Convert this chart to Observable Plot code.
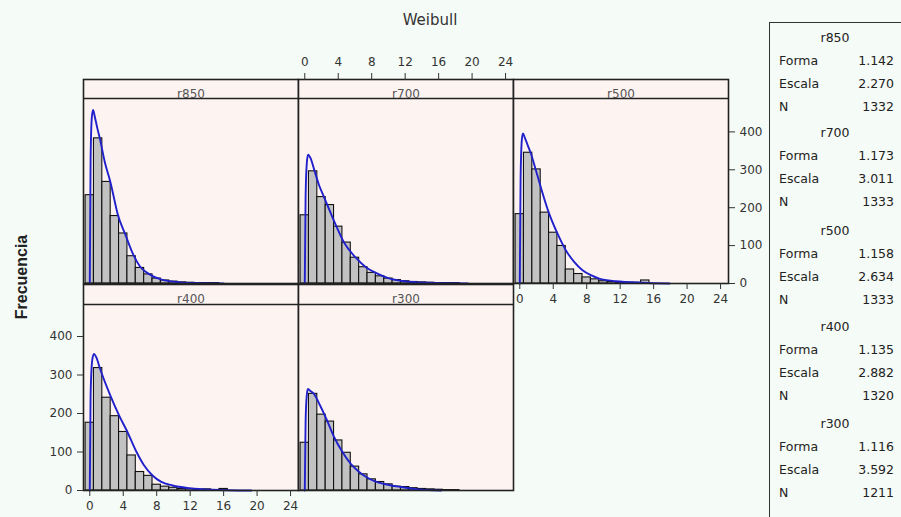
<!DOCTYPE html>
<html><head><meta charset="utf-8">
<script src="https://cdn.jsdelivr.net/npm/d3@7"></script>
<script src="https://cdn.jsdelivr.net/npm/@observablehq/plot@0.6"></script>
<style>
body{margin:0;background:#f5fbf6;}
#fig{position:relative;width:901px;height:517px;overflow:hidden;background:#f5fbf6;font-family:"DejaVu Sans",sans-serif;}
.abs{position:absolute;white-space:nowrap;}
.plotwrap{position:absolute;}
</style></head><body><div id="fig"></div>
<script>
// ---------- data ----------
const series = ["r850", "r700", "r500", "r400", "r300"];
const binMid = [0,1,2,3,4,5,6,7,8,9,10,11,12,13,14,15,16,17,18,19,20];
const count_r850 = [233,383,268,178,132,72,41,24,13,8,5,3,2,1,1,1,0,0,0,0,0];
const count_r700 = [180,296,228,207,150,108,68,43,28,19,13,9,6,4,3,2,1,1,1,0,0];
const count_r500 = [183,345,301,187,134,99,37,25,16,11,6,4,3,2,2,8,0,0,0,0,0];
const count_r400 = [176,318,241,193,152,91,48,38,15,10,7,4,4,2,3,1,4,0,0,0,0];
const count_r300 = [124,251,197,179,130,98,62,42,29,22,16,10,9,6,4,3,2,1,1,0,0];

// fitted Weibull curve
const fitX_r850 = [0,0.1,0.25,0.4,0.6,0.9,1.2,1.8,2.46,3.4,4.2,5.2,6.0,7.0,8.6,10.8,13,16];
const fitY_r850 = [0,330,440,458,440,410,383,320,268,178,132,76,45,26,10,3,1,0];
const fitX_r700 = [0,0.1,0.25,0.4,0.7,1.18,1.7,2.3,2.7,3.8,4.7,6.1,7.3,8.5,9.9,11.9,14.7,19.5];
const fitY_r700 = [0,230,320,340,330,296,260,228,207,150,108,68,43,28,15,6,2,0];
const fitX_r500 = [0,0.1,0.25,0.38,0.6,1.0,1.3,1.9,2.5,3.5,4.5,5.5,6.5,7.5,8.5,9.5,11.5,14.7,17.9];
const fitY_r500 = [0,280,380,396,385,362,345,301,255,185,132,88,57,35,22,13,6,2,0];
const fitX_r400 = [0,0.1,0.3,0.5,0.8,1.2,2.45,3.5,4.5,5.5,6.5,7.5,8.5,9.9,11.9,14.6,19.3];
const fitY_r400 = [0,250,340,355,345,318,247,195,152,104,65,39,23,13,6,2,0];
const fitX_r300 = [0,0.1,0.25,0.38,0.6,1.1,1.8,2.5,3.5,4.5,5.5,6.5,7.5,8.5,9.5,11.5,13.5,16.3];
const fitY_r300 = [0,180,250,264,260,251,222,190,139,100,69,48,33,23,17,9,3,0];

const forma  = ["1.142", "1.173", "1.158", "1.135", "1.116"];
const escala = ["2.270", "3.011", "2.634", "2.882", "3.592"];
const nObs   = ["1332", "1333", "1333", "1320", "1211"];
const statLabels = ["Forma", "Escala", "N"];

const xTicks = [0, 4, 8, 12, 16, 20, 24];
const yTicks = [0, 100, 200, 300, 400];
const title = "Weibull";
const yLabel = "Frecuencia";

const counts = {r850: count_r850, r700: count_r700, r500: count_r500, r400: count_r400, r300: count_r300};
const fitX = {r850: fitX_r850, r700: fitX_r700, r500: fitX_r500, r400: fitX_r400, r300: fitX_r300};
const fitY = {r850: fitY_r850, r700: fitY_r700, r500: fitY_r500, r400: fitY_r400, r300: fitY_r300};

// ---------- layout ----------
const fig = document.getElementById("fig");
const colLeft = [83, 298, 513];
const panelW = 215;
const rows = [
  {frameTop: 79, stripBottom: 98, frameBottom: 283, k: 0.379},
  {frameTop: 284, stripBottom: 304, frameBottom: 490, k: 0.385}
];
const place = {r850: [0,0], r700: [1,0], r500: [2,0], r400: [0,1], r300: [1,1]};
const axesFor = {
  r850: [],
  r700: ["xtop"],
  r500: ["xbottom", "yright"],
  r400: ["xbottom", "yleft"],
  r300: []
};
const M = 45;
const panelBg = "#fdf4f2";
const ink = "#222";
const axisFont = 12;

for (const s of series) {
  const [c, r] = place[s];
  const R = rows[r];
  const frameH = R.frameBottom - R.frameTop;
  const W = panelW + 2 * M, H = frameH + 2 * M;
  const y0 = H - M;                 // pixel of value 0
  const y400 = y0 - 400 * R.k;      // pixel of value 400
  const sepVal = (R.frameBottom - R.stripBottom) / R.k;
  const bars = binMid.map((m, i) => ({x1: m - 0.5, x2: m + 0.5, n: counts[s][i]})).filter(d => d.n > 0);
  const fit = fitX[s].map((x, i) => ({x, y: fitY[s][i]}));
  const marks = [
    Plot.frame({fill: panelBg}),
    Plot.rectY(bars, {x1: "x1", x2: "x2", y: "n", fill: "#c2c2c2", stroke: "#111", strokeWidth: 1.1}),
    Plot.line(fit, {x: "x", y: "y", stroke: "#2020cc", strokeWidth: 1.9, curve: "monotone-x"}),
    Plot.ruleY([sepVal], {stroke: ink, strokeWidth: 1.5}),
    Plot.frame({stroke: ink, strokeWidth: 1.6}),
    Plot.text([s], {frameAnchor: "top", dy: 10, fontSize: 12, fill: "#555"})
  ];
  const ax = axesFor[s];
  if (ax.includes("xtop")) marks.push(Plot.axisX(xTicks, {anchor: "top", tickSize: 7, tickPadding: 7, color: "#333", fontSize: axisFont}));
  if (ax.includes("xbottom")) marks.push(Plot.axisX(xTicks, {anchor: "bottom", tickSize: 6, tickPadding: 5, color: "#333", fontSize: axisFont}));
  if (ax.includes("yright")) marks.push(Plot.axisY(yTicks, {anchor: "right", tickSize: 6, tickPadding: 5, color: "#333", fontSize: axisFont}));
  if (ax.includes("yleft")) marks.push(Plot.axisY(yTicks, {anchor: "left", tickSize: 6, tickPadding: 5, color: "#333", fontSize: axisFont}));
  const chart = Plot.plot({
    width: W, height: H,
    marginTop: M, marginBottom: M, marginLeft: M, marginRight: M,
    x: {domain: [-0.75, 24.95], axis: ax.some(a => a.startsWith("x")) ? undefined : null},
    y: {domain: [0, 400], range: [y0, y400], axis: ax.some(a => a.startsWith("y")) ? undefined : null},
    style: {background: "transparent", overflow: "visible", fontFamily: "DejaVu Sans", fontSize: "12px"},
    marks
  });
  const wrap = document.createElement("div");
  wrap.className = "plotwrap";
  wrap.style.left = (colLeft[c] - M) + "px";
  wrap.style.top = (R.frameTop - M) + "px";
  wrap.appendChild(chart);
  fig.appendChild(wrap);
}

function addText(txt, css) {
  const d = document.createElement("div");
  d.className = "abs";
  d.textContent = txt;
  Object.assign(d.style, css);
  fig.appendChild(d);
  return d;
}

// title
addText(title, {left: "430px", top: "20px", transform: "translate(-50%,-50%)", fontSize: "15px", color: "#333", fontFamily: "DejaVu Sans"});
// y label
addText(yLabel, {left: "22px", top: "277px", transform: "translate(-50%,-50%) rotate(-90deg)", fontSize: "16px", fontWeight: "bold", color: "#222", fontFamily: "Liberation Sans"});

// legend box
const box = document.createElement("div");
Object.assign(box.style, {position: "absolute", left: "769px", top: "22px", width: "160px", height: "520px", border: "1.5px solid #333", boxSizing: "border-box"});
fig.appendChild(box);
const groupTop = [38, 133, 231, 327, 424];
series.forEach((s, i) => {
  const y = groupTop[i];
  addText(s, {left: "835px", top: (y - 8) + "px", transform: "translateX(-50%)", fontSize: "12.5px", lineHeight: "16px", color: "#222"});
  const vals = [forma[i], escala[i], nObs[i]];
  statLabels.forEach((lab, j) => {
    const yy = y + 23 * (j + 1);
    addText(lab, {left: "779px", top: (yy - 8) + "px", fontSize: "12.5px", lineHeight: "16px", color: "#222"});
    addText(vals[j], {right: "7px", top: (yy - 8) + "px", fontSize: "12.5px", lineHeight: "16px", color: "#222", textAlign: "right"});
  });
});
</script></body></html>
